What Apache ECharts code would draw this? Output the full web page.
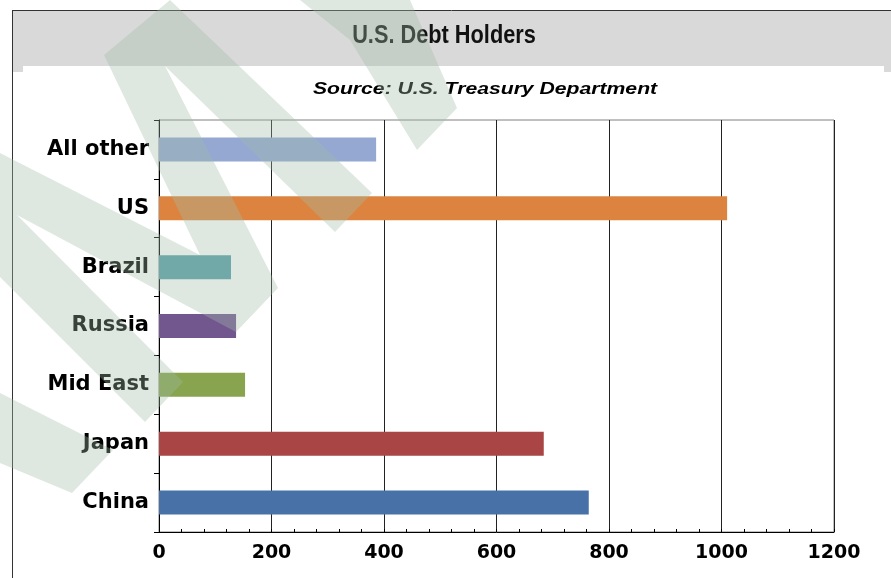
<!DOCTYPE html>
<html>
<head>
<meta charset="utf-8">
<script src="https://cdn.jsdelivr.net/npm/echarts@6/dist/echarts.min.js"></script>
<style>
html,body{margin:0;padding:0;background:#fff;}
#main{width:891px;height:578px;}
</style>
</head>
<body>
<div id="main"></div>
<script>
// ---- data ----
const titleText = 'U.S. Debt Holders';
const subtitleText = 'Source: U.S. Treasury Department';
const categories = ['China', 'Japan', 'Mid East', 'Russia', 'Brazil', 'US', 'All other'];
const values = [764, 684, 153, 137, 128, 1010, 386];
const barColors = ['#4771a7', '#a94545', '#88a44e', '#72578f', '#579fa8', '#dc843f', '#94a8d2'];
const xTicks = [0, 200, 400, 600, 800, 1000, 1200];

// ---- watermark shapes (decoration) ----
const wmColor = 'rgba(160,190,170,0.35)';
const wmShapes = [
  [[170,0],[372,193],[335,232],[165,66],[278,288],[236,332],[17,215],[183,382],[145,422],[0,277],[0,153],[200,255],[104,55]],
  [[300,0],[410,0],[457,108],[417,150],[350,40]],
  [[0,393],[113,450],[72,493],[0,463]]
];

const chart = echarts.init(document.getElementById('main'), null, {renderer: 'canvas'});

const graphics = [
  {type: 'rect', z: 0, shape: {x: 13, y: 11, width: 878, height: 55}, style: {fill: '#d9d9d9'}},
  {type: 'rect', z: 0, shape: {x: 13, y: 66, width: 10, height: 6}, style: {fill: '#d9d9d9'}},
  {type: 'rect', z: 0, shape: {x: 884, y: 66, width: 7, height: 6}, style: {fill: '#d9d9d9'}},
  {type: 'line', z: 1, shape: {x1: 12, y1: 10.5, x2: 891, y2: 10.5}, style: {stroke: '#333', lineWidth: 1}},
  {type: 'line', z: 1, shape: {x1: 12.5, y1: 10, x2: 12.5, y2: 578}, style: {stroke: '#333', lineWidth: 1}},
  {type: 'text', z: 2, x: 444, y: 36, scaleX: 0.87,
    style: {text: titleText, fontFamily: 'Liberation Sans, Arial, sans-serif', fontWeight: 'bold', fontSize: 25, fill: '#111', align: 'center', verticalAlign: 'middle'}},
  {type: 'text', z: 2, x: 485, y: 89, scaleX: 1.245,
    style: {text: subtitleText, fontFamily: 'Liberation Sans, Arial, sans-serif', fontWeight: 'bold', fontStyle: 'italic', fontSize: 17, fill: '#000', align: 'center', verticalAlign: 'middle'}}
];
wmShapes.forEach(pts => graphics.push({type: 'polygon', z: 100, silent: true, shape: {points: pts}, style: {fill: wmColor}}));

chart.setOption({
  animation: false,
  backgroundColor: '#fff',
  graphic: {elements: graphics},
  grid: {left: 159, right: 57, top: 120, bottom: 46, show: true, borderColor: '#808080', borderWidth: 1, backgroundColor: 'transparent'},
  xAxis: {
    type: 'value', min: xTicks[0], max: xTicks[xTicks.length - 1], interval: xTicks[1] - xTicks[0],
    axisLine: {show: true, lineStyle: {color: '#000', width: 1}},
    axisTick: {show: true, inside: true, length: 3, lineStyle: {color: '#000'}},
    minorTick: {show: true, splitNumber: 5, length: 3, lineStyle: {color: '#000'}},
    splitLine: {show: true, lineStyle: {color: '#222', width: 1}},
    axisLabel: {fontFamily: 'DejaVu Sans', fontWeight: 'bold', fontSize: 19, color: '#000', margin: 12,
      formatter: v => String(v)}
  },
  yAxis: {
    type: 'category', data: categories,
    axisLine: {show: true, lineStyle: {color: '#000', width: 1}},
    axisTick: {show: true, length: 5, lineStyle: {color: '#000'}},
    axisLabel: {fontFamily: 'DejaVu Sans', fontWeight: 'bold', fontSize: 21, color: '#000', margin: 10}
  },
  series: [{
    type: 'bar', barWidth: 24,
    data: values.map((v, i) => ({value: v, itemStyle: {color: barColors[i]}}))
  }]
});
</script>
</body>
</html>
